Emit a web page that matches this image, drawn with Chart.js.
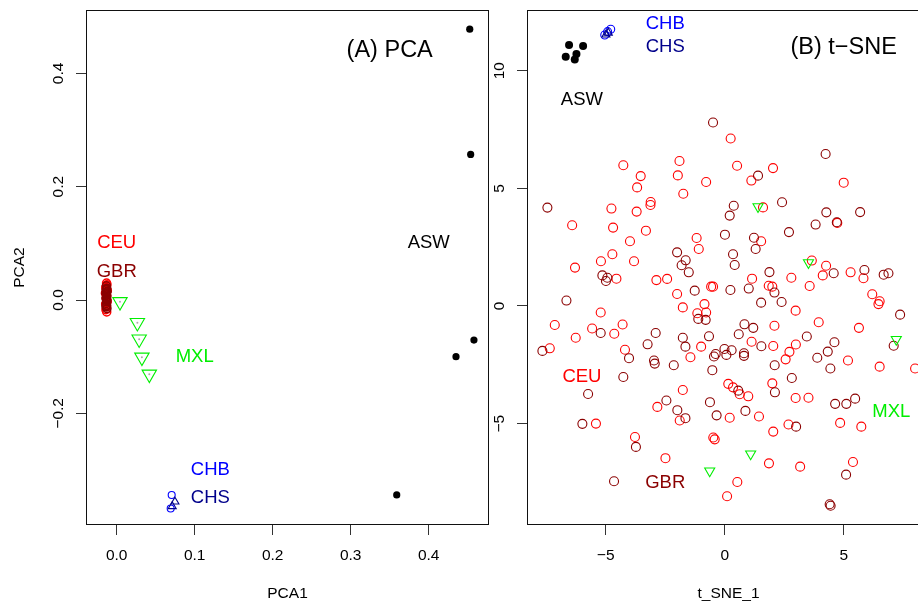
<!DOCTYPE html>
<html>
<head>
<meta charset="utf-8">
<script src="https://cdn.jsdelivr.net/npm/chart.js@4.4.1/dist/chart.umd.min.js"></script>
<style>
  html, body { margin: 0; padding: 0; background: #fff; overflow: hidden; }
  body { width: 918px; height: 601px; position: relative; }
  canvas { position: absolute; top: 0; }
  #pcaChart { left: 0; }
  #tsneChart { left: 459px; }
</style>
</head>
<body>
<canvas id="pcaChart" width="500" height="601"></canvas>
<canvas id="tsneChart" width="480" height="601"></canvas>
<script>
// ---- data: panel A (PCA) ----
const pcaTicksX = [0, 0.1, 0.2, 0.3, 0.4];
const pcaTicksY = [-0.2, 0, 0.2, 0.4];
const pcaCEU = [[-0.0130, 0.030], [-0.0125, 0.027], [-0.0140, 0.022], [-0.0120, 0.017], [-0.0145, 0.012],
    [-0.0128, 0.008], [-0.0135, 0.003], [-0.0122, -0.002], [-0.0142, -0.007], [-0.0130, -0.012],
    [-0.0138, -0.017], [-0.0128, -0.021], [-0.0133, 0.024], [-0.0129, -0.005]];
const pcaGBR = [[-0.0132, 0.025], [-0.0128, 0.021], [-0.0136, 0.018], [-0.0124, 0.015], [-0.0138, 0.012],
    [-0.0130, 0.009], [-0.0127, 0.006], [-0.0135, 0.003], [-0.0131, 0.000], [-0.0126, -0.003],
    [-0.0134, -0.006], [-0.0129, -0.009], [-0.0137, -0.012], [-0.0125, -0.015], [-0.0131, 0.019],
    [-0.0133, 0.011], [-0.0128, 0.001], [-0.0132, -0.010], [-0.0130, 0.014], [-0.0134, 0.004]];
const pcaMXL = [[0.0042, -0.003], [0.0265, -0.040], [0.0288, -0.069], [0.0323, -0.101], [0.0418, -0.131]];
const pcaCHB = [[0.0705, -0.344], [0.0692, -0.368]];
const pcaCHS = [[0.0747, -0.356], [0.0712, -0.364]];
const pcaASW = [[0.4526, 0.478], [0.4538, 0.257], [0.458, -0.0706], [0.435, -0.100], [0.359, -0.344]];
const pcaLabels = [["CEU", 0, 0.1], ["GBR", 0, 0.05], ["MXL", 0.1, -0.1], ["CHB", 0.12, -0.3],
    ["CHS", 0.12, -0.35], ["ASW", 0.4, 0.1]];
const pcaTitle = ["(A) PCA", 0.35, 0.44];

// ---- data: panel B (t-SNE) ----
const tsneTicksX = [-5, 0, 5];
const tsneTicksY = [-5, 0, 5, 10];
const tsneCEU = [[0.25, 7.12], [-4.26, 5.98], [-1.90, 6.16], [-3.53, 5.52], [-1.97, 5.55], [0.52, 5.96],
    [2.03, 5.86], [1.12, 5.33], [-0.78, 5.27], [5.0, 5.24], [-3.68, 5.04], [-1.74, 4.77], [-3.11, 4.42],
    [-3.12, 4.29], [-4.76, 4.14], [-3.70, 4.01], [1.61, 4.19], [-6.41, 3.43], [-4.69, 3.33], [-3.31, 3.20],
    [4.73, 3.53], [-1.18, 2.89], [1.53, 2.75], [-3.98, 2.75], [-1.09, 2.42], [-4.72, 2.20], [-5.20, 1.90],
    [-3.81, 1.90], [-6.29, 1.63], [3.66, 1.93], [4.26, 1.71], [4.12, 1.30], [5.29, 1.43], [5.83, 1.18],
    [-4.55, 1.16], [-2.87, 1.10], [-2.42, 1.15], [2.80, 1.20], [1.15, 1.16], [1.85, 0.86], [2.0, 0.82],
    [3.57, 0.85], [-0.57, 0.82], [-0.49, 0.82], [-2.0, 0.51], [6.20, 0.50], [-1.76, -0.06], [-0.85, 0.08],
    [6.46, 0.08], [6.51, 0.20], [2.98, -0.20], [-5.21, -0.28], [-1.15, -0.31], [-0.78, -0.28], [-7.14, -0.81],
    [-5.57, -0.96], [-4.29, -0.79], [-4.64, -1.18], [-6.26, -1.35], [2.09, -0.84], [3.95, -0.69], [5.64, -0.93],
    [-7.35, -1.80], [-4.19, -1.86], [-1.44, -2.18], [-0.99, -1.73], [1.13, -1.52], [2.04, -1.70], [2.99, -1.64],
    [2.72, -1.95], [2.56, -2.27], [5.18, -2.32], [6.51, -2.58], [8.0, -2.66], [-1.76, -3.57], [0.15, -3.31],
    [0.35, -3.46], [0.63, -3.75], [0.99, -3.84], [2.0, -3.29], [2.98, -3.91], [3.52, -3.90], [-2.83, -4.29],
    [-1.89, -4.87], [0.21, -4.75], [1.44, -4.70], [-5.41, -5.0], [2.68, -5.04], [2.04, -5.34], [4.85, -4.97],
    [5.74, -5.13], [-3.77, -5.57], [-0.48, -5.59], [-0.42, -5.67], [-2.49, -6.47], [1.86, -6.69], [3.17, -6.83],
    [5.39, -6.63], [0.53, -7.48], [0.10, -8.09]];
const tsneGBR = [[-0.49, 7.80], [4.24, 6.46], [1.40, 5.54], [-7.45, 4.18], [0.38, 4.26], [0.21, 3.84],
    [2.41, 4.41], [4.27, 3.98], [5.69, 3.99], [3.82, 3.46], [4.71, 3.56], [2.70, 3.14], [0.01, 3.03],
    [1.23, 2.90], [1.30, 2.42], [-2.0, 2.28], [0.35, 2.20], [-1.64, 1.94], [-1.81, 1.73], [0.42, 1.74],
    [-1.51, 1.43], [1.88, 1.44], [4.58, 1.39], [5.87, 1.53], [6.68, 1.33], [6.88, 1.39], [-5.14, 1.30],
    [-4.93, 1.20], [-4.99, 1.06], [2.09, 0.57], [1.01, 0.74], [-1.26, 0.65], [0.24, 0.68], [-6.65, 0.23],
    [1.53, 0.14], [2.39, 0.17], [-1.11, -0.55], [-0.80, -0.59], [7.37, -0.37], [-5.21, -1.15], [-2.90, -1.15],
    [-1.76, -1.35], [-0.66, -1.29], [0.83, -0.78], [1.20, -0.93], [0.59, -1.20], [3.45, -1.30], [7.10, -1.69],
    [-7.66, -1.91], [-4.02, -2.22], [-3.24, -1.63], [-2.97, -2.32], [-2.94, -2.45], [-2.14, -2.52],
    [-1.65, -1.73], [-0.01, -1.83], [0.29, -1.88], [0.07, -2.08], [-0.38, -2.04], [-0.45, -2.15], [0.81, -2.01],
    [0.81, -2.12], [1.54, -1.71], [2.10, -2.52], [4.61, -1.54], [4.33, -1.94], [3.89, -2.20], [4.44, -2.66],
    [-0.52, -2.73], [-4.26, -3.02], [2.82, -3.06], [-5.74, -3.74], [0.57, -3.60], [2.11, -3.67], [4.64, -4.16],
    [5.11, -4.16], [5.48, -3.94], [-2.45, -4.02], [-1.99, -4.43], [-1.65, -4.77], [-0.62, -4.09], [-0.34, -4.65],
    [0.87, -4.46], [-5.98, -5.01], [3.0, -5.13], [-3.73, -5.99], [5.10, -7.17], [-4.65, -7.45], [4.41, -8.43],
    [4.45, -8.49]];
const tsneMXL = [[1.40, 4.22], [3.52, 1.84], [7.21, -1.42], [1.09, -6.29], [-0.63, -7.01]];
const tsneCHB = [[-4.79, 11.76], [-4.92, 11.66], [-5.04, 11.52]];
const tsneCHS = [[-4.89, 11.61], [-4.99, 11.53]];
const tsneASW = [[-6.54, 11.09], [-5.95, 11.05], [-6.68, 10.59], [-6.23, 10.71], [-6.30, 10.48]];
const tsneLabels = [["CHB", -2.5, 12], ["CHS", -2.5, 11], ["ASW", -6, 8.75], ["CEU", -6, -3],
    ["GBR", -2.5, -7.5], ["MXL", 7, -4.5]];
const tsneTitle = ["(B) t\u2212SNE", 5, 11];

// ---- styling ----
const FONT = '"Liberation Sans", Arial, Helvetica, sans-serif';
const groupColors = { CEU: '#FF0000', GBR: '#8B0000', MXL: '#00EE00', CHB: '#0000FF', CHS: '#00008B', ASW: '#000000' };

function fmt(v, digits) {
    const s = Math.abs(v).toFixed(digits);
    return v < 0 ? '\u2212' + s : s;
}

function toXY(arr) {
    return arr.map(p => ({ x: p[0], y: p[1] }));
}

// box around the plot region + text annotations placed in data coordinates
const frameAndText = {
    id: 'frameAndText',
    afterDatasetsDraw(chart, args, opts) {
        const { ctx, chartArea: a } = chart;
        const xs = chart.scales.x, ys = chart.scales.y;
        ctx.save();
        ctx.strokeStyle = '#111';
        ctx.lineWidth = 1;
        ctx.strokeRect(a.left + 0.5, a.top + 0.5, a.right - a.left - 1, a.bottom - a.top - 1);
        ctx.textAlign = 'center';
        ctx.textBaseline = 'middle';
        ctx.font = '18.5px ' + FONT;
        opts.labels.forEach(([txt, vx, vy]) => {
            ctx.fillStyle = groupColors[txt];
            ctx.fillText(txt, xs.getPixelForValue(vx), ys.getPixelForValue(vy));
        });
        ctx.font = '23.5px ' + FONT;
        ctx.fillStyle = '#000';
        ctx.fillText(opts.title[0], xs.getPixelForValue(opts.title[1]), ys.getPixelForValue(opts.title[2]));
        ctx.restore();
    }
};

function noPad(s) {
    s.paddingTop = 0; s.paddingBottom = 0; s.paddingLeft = 0; s.paddingRight = 0;
}

function makeScales(o) {
    return {
        x: {
            type: 'linear', min: o.xMin, max: o.xMax,
            afterBuildTicks: s => { s.ticks = o.xTicks.map(v => ({ value: v })); },
            afterFit: s => { s.height = 76; noPad(s); },
            grid: { drawOnChartArea: false, drawTicks: true, tickLength: 10, color: '#333' },
            border: { display: false },
            ticks: {
                color: '#000', font: { family: FONT, size: 15.5 }, padding: 11,
                maxRotation: 0, autoSkip: false, callback: v => fmt(v, o.xDigits)
            },
            title: {
                display: true, text: o.xTitle, color: '#000',
                font: { family: FONT, size: 15.5, lineHeight: 1 }, padding: { top: 0, bottom: 0 }
            }
        },
        y: {
            type: 'linear', min: o.yMin, max: o.yMax,
            afterBuildTicks: s => { s.ticks = o.yTicks.map(v => ({ value: v })); },
            afterFit: s => { s.width = o.yWidth; noPad(s); },
            grid: { drawOnChartArea: false, drawTicks: true, tickLength: 10, color: '#333' },
            border: { display: false },
            ticks: {
                color: '#000', font: { family: FONT, size: 15.5 }, padding: o.yPad,
                minRotation: 90, maxRotation: 90, crossAlign: 'center', autoSkip: false,
                callback: v => fmt(v, o.yDigits)
            },
            title: {
                display: !!o.yTitle, text: o.yTitle || '', color: '#000',
                font: { family: FONT, size: 15.5, lineHeight: 1 }, padding: { top: 12, bottom: 0 }
            }
        }
    };
}

function circleSet(data, color, r, bw) {
    return {
        data: toXY(data), pointStyle: 'circle', pointRadius: r, pointBorderWidth: bw || 1.1,
        pointBorderColor: color, pointBackgroundColor: 'rgba(0,0,0,0)'
    };
}
function triSet(data, color, r, rot) {
    return {
        data: toXY(data), pointStyle: 'triangle', pointRadius: r, pointRotation: rot, pointBorderWidth: 1.1,
        pointBorderColor: color, pointBackgroundColor: 'rgba(0,0,0,0)'
    };
}
function dotSet(data, color, r) {
    return {
        data: toXY(data), pointStyle: 'circle', pointRadius: r, pointBorderWidth: 0,
        pointBorderColor: color, pointBackgroundColor: color
    };
}

const common = {
    responsive: false,
    animation: false,
    events: [],
    plugins: { legend: { display: false }, tooltip: { enabled: false } }
};

// Chart.js paints dataset 0 last, so the topmost group comes first here
new Chart(document.getElementById('pcaChart'), {
    type: 'scatter',
    data: {
        datasets: [
            dotSet(pcaMXL, '#aaaaaa', 1),
            triSet(pcaMXL, groupColors.MXL, 8.3, 180),
            triSet(pcaCHS, groupColors.CHS, 4.6, 0),
            circleSet(pcaCHB, groupColors.CHB, 3.5),
            dotSet(pcaASW, groupColors.ASW, 3.6),
            circleSet(pcaGBR, groupColors.GBR, 4, 1.5),
            circleSet(pcaCEU, groupColors.CEU, 4, 1.5)
        ]
    },
    options: Object.assign({}, common, {
        layout: { padding: { top: 10, right: 11, left: 0, bottom: 0 } },
        scales: makeScales({
            xMin: -0.03936, xMax: 0.4773, yMin: -0.397, yMax: 0.5118,
            xTicks: pcaTicksX, yTicks: pcaTicksY, xDigits: 1, yDigits: 1,
            xTitle: 'PCA1', yTitle: 'PCA2', yWidth: 86, yPad: 2
        }),
        plugins: Object.assign({}, common.plugins, { frameAndText: { labels: pcaLabels, title: pcaTitle } })
    }),
    plugins: [frameAndText]
});

new Chart(document.getElementById('tsneChart'), {
    type: 'scatter',
    data: {
        datasets: [
            triSet(tsneMXL, groupColors.MXL, 5.8, 180),
            triSet(tsneCHS, groupColors.CHS, 4.6, 0),
            circleSet(tsneCHB, groupColors.CHB, 4),
            dotSet(tsneASW, groupColors.ASW, 4),
            circleSet(tsneGBR, groupColors.GBR, 4.5),
            circleSet(tsneCEU, groupColors.CEU, 4.5)
        ]
    },
    options: Object.assign({}, common, {
        layout: { padding: { top: 10, right: 9, left: 0, bottom: 0 } },
        scales: makeScales({
            xMin: -8.307, xMax: 8.626, yMin: -9.31, yMax: 12.58,
            xTicks: tsneTicksX, yTicks: tsneTicksY, xDigits: 0, yDigits: 0,
            xTitle: 't_SNE_1', yTitle: '', yWidth: 68, yPad: 8
        }),
        plugins: Object.assign({}, common.plugins, { frameAndText: { labels: tsneLabels, title: tsneTitle } })
    }),
    plugins: [frameAndText]
});
</script>
</body>
</html>
